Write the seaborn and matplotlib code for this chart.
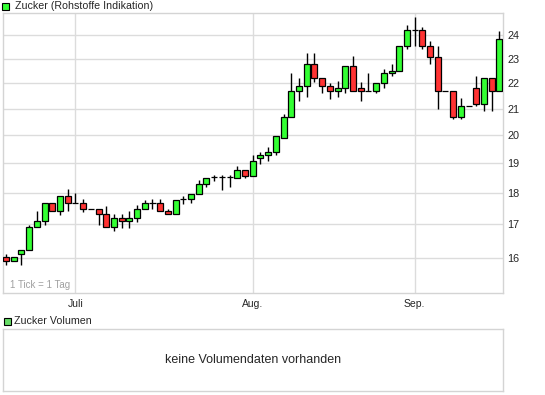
import numpy as np
import pandas as pd
import matplotlib
matplotlib.use("Agg")
import matplotlib.pyplot as plt
import seaborn as sns
from matplotlib.patches import Rectangle
from matplotlib.ticker import NullLocator

# daily candles (one tick = one trading day)
opens = [16.02, 15.90, 16.10, 16.22, 16.91, 17.09, 17.69, 17.41, 17.89, 17.69,
         17.69, 17.50, 17.50, 17.31, 16.91, 17.19, 17.09, 17.19, 17.50, 17.69,
         17.69, 17.41, 17.31, 17.80, 17.79, 17.98, 18.31, 18.53, 18.53, 18.53,
         18.51, 18.78, 18.58, 19.20, 19.30, 19.41, 19.91, 20.68, 21.67, 21.87,
         22.76, 22.19, 21.87, 21.67, 21.79, 22.68, 21.79, 21.67, 21.67, 21.99,
         22.39, 22.48, 23.56, 24.25, 24.25, 23.56, 23.09, 21.67, 21.67, 20.68,
         21.08, 21.79, 21.17, 22.19, 21.67]
highs = [16.11, 16.02, 16.22, 16.99, 17.43, 17.69, 17.69, 17.89, 18.13, 17.99,
         17.80, 17.50, 17.50, 17.59, 17.31, 17.31, 17.42, 17.61, 17.77, 17.80,
         17.80, 17.50, 17.78, 17.91, 17.98, 18.42, 18.51, 18.61, 18.61, 18.61,
         18.90, 18.78, 19.31, 19.41, 19.59, 19.98, 20.80, 22.42, 22.19, 23.26,
         23.26, 22.19, 21.99, 22.08, 22.68, 23.10, 22.05, 22.42, 21.99, 22.58,
         22.77, 23.56, 24.48, 24.81, 24.39, 23.77, 23.56, 21.67, 21.67, 21.40,
         21.08, 22.27, 22.19, 22.19, 24.18]
lows = [15.80, 15.90, 15.80, 16.22, 16.91, 16.99, 17.41, 17.30, 17.41, 17.69,
        17.38, 17.50, 16.99, 16.91, 16.81, 16.90, 16.90, 17.08, 17.50, 17.50,
        17.41, 17.31, 17.31, 17.63, 17.68, 17.98, 18.21, 18.40, 18.10, 18.21,
        18.51, 18.51, 18.58, 18.99, 19.09, 19.30, 19.91, 20.68, 21.28, 21.46,
        22.05, 21.60, 21.38, 21.46, 21.60, 21.67, 21.28, 21.67, 21.60, 21.79,
        22.27, 22.48, 23.39, 23.56, 23.39, 22.76, 20.98, 21.67, 20.60, 20.60,
        21.08, 21.08, 20.89, 20.89, 21.67]
closes = [15.90, 16.02, 16.22, 16.91, 17.09, 17.69, 17.41, 17.89, 17.69, 17.69,
          17.50, 17.50, 17.31, 16.91, 17.19, 17.09, 17.19, 17.50, 17.69, 17.69,
          17.41, 17.31, 17.78, 17.80, 17.98, 18.31, 18.51, 18.53, 18.53, 18.53,
          18.78, 18.58, 19.09, 19.30, 19.41, 19.98, 20.68, 21.67, 21.87, 22.76,
          22.19, 21.87, 21.67, 21.79, 22.68, 21.67, 21.67, 21.67, 21.99, 22.39,
          22.48, 23.56, 24.25, 24.25, 23.56, 23.09, 21.67, 21.67, 20.68, 21.08,
          21.08, 21.17, 22.19, 21.67, 23.86]

price_ticks = [16, 17, 18, 19, 20, 21, 22, 23, 24]
month_pos = [9, 32, 53]
month_labels = ["Juli", "Aug.", "Sep."]

df = pd.DataFrame({"open": opens, "high": highs, "low": lows, "close": closes})
df["day"] = np.arange(len(df))
df["color"] = np.where(df["close"] >= df["open"], "#33ff33", "#ff3333")

sns.set_style("white")
plt.rcParams["font.family"] = ["Liberation Sans", "DejaVu Sans"]

fig = plt.figure(figsize=(5.45, 3.95), dpi=100)
W, H = 545, 395

ax = fig.add_axes([3 / W, (H - 293) / H, 500 / W, 280 / H])
ax.set_yscale("log")
ax.vlines(df["day"], df["low"], df["high"], color="black", linewidth=1, zorder=2)
ax.bar(df["day"], df["close"] - df["open"], bottom=df["open"], width=0.78,
       color=df["color"], edgecolor="black", linewidth=0.9, zorder=3)

ax.set_xlim(-0.39, 64.46)
ax.set_ylim(15, 25)
ax.yaxis.tick_right()
ax.set_yticks(price_ticks)
ax.set_yticklabels([str(t) for t in price_ticks])
ax.yaxis.set_minor_locator(NullLocator())
ax.set_xticks(month_pos)
ax.set_xticklabels(month_labels)
ax.tick_params(axis="y", length=0, pad=3, labelsize=7.8)
ax.tick_params(axis="x", length=0, pad=4, labelsize=7.5)
ax.grid(True, color="#dcdcdc", linewidth=1)
ax.set_axisbelow(True)
for s in ax.spines.values():
    s.set_color("#d4d4d4")
    s.set_linewidth(1)
ax.text(0.014, 0.012, "1 Tick = 1 Tag", transform=ax.transAxes, fontsize=7,
        color="#a0a0a0", va="bottom", ha="left")

# legend boxes
fig.add_artist(Rectangle((1.5 / W, (H - 9.5) / H), 7 / W, 7 / H, transform=fig.transFigure,
                         facecolor="#33ff33", edgecolor="black", linewidth=0.8))
fig.text(15 / W, 1 - 6 / H, "Zucker (Rohstoffe Indikation)", va="center", fontsize=7.7)

fig.add_artist(Rectangle((3.5 / W, (H - 325) / H), 7 / W, 7 / H, transform=fig.transFigure,
                         facecolor="#66dd66", edgecolor="black", linewidth=0.8))
fig.text(14 / W, 1 - 321.5 / H, "Zucker Volumen", va="center", fontsize=7.7)

vax = fig.add_axes([3 / W, 4 / H, 500 / W, 62 / H])
vax.set_xticks([])
vax.set_yticks([])
for s in vax.spines.values():
    s.set_color("#d4d4d4")
    s.set_linewidth(1)
vax.text(0.5, 0.5, "keine Volumendaten vorhanden", transform=vax.transAxes,
         ha="center", va="center", fontsize=9)

fig.savefig("out.png", dpi=100)
